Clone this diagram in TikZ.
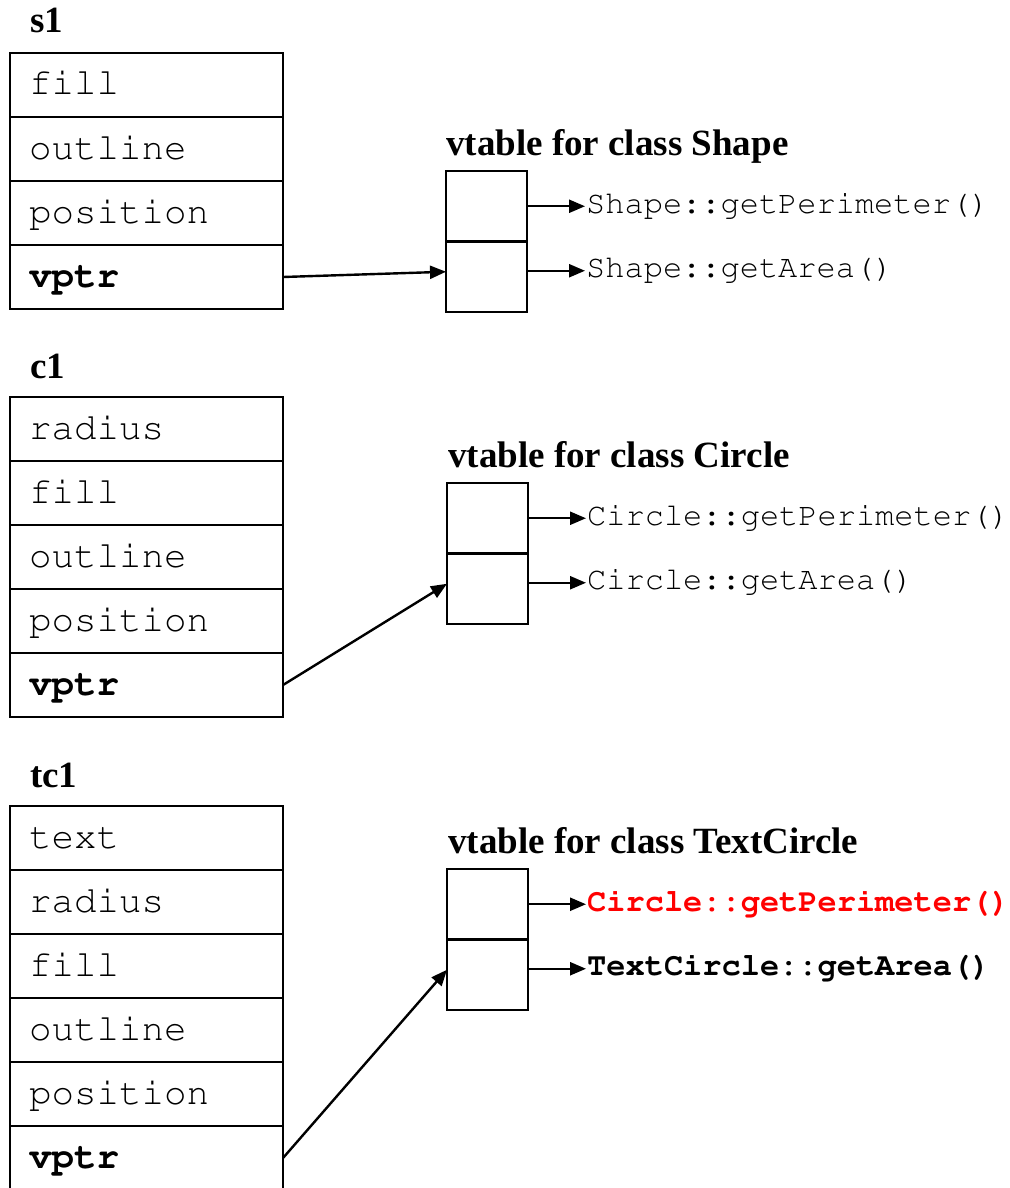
\documentclass[tikz,border=0pt]{standalone}
\usepackage[T1,TU]{fontenc}
\usepackage{fontspec}
\setmainfont{Liberation Serif}
\setmonofont{Liberation Mono}
\usetikzlibrary{arrows.meta, positioning}
\definecolor{overridered}{RGB}{255, 0, 0}
\newcommand{\objfont}{\fontsize{37}{40}\selectfont\bfseries}
\newcommand{\fieldfont}{\fontencoding{T1}\fontfamily{pcr}\fontsize{37.5}{40}\selectfont}
\newcommand{\entryfont}{\fontencoding{T1}\fontfamily{pcr}\fontsize{32}{34}\selectfont}

\begin{document}
\begin{tikzpicture}[
        x=1pt, y=1pt,
        node distance=0pt and 58pt,
        field/.style={rectangle, draw, line width=2.8pt, outer sep=0pt, minimum width=273pt, minimum height=64pt, inner xsep=19pt, text width=235pt, align=left, text height=26pt, text depth=6pt, font=\fieldfont},
        slot/.style={rectangle, draw, line width=2.8pt, outer sep=0pt, minimum width=81pt, minimum height=70.5pt},
        objname/.style={anchor=base west, inner sep=0pt, font=\objfont},
        entry/.style={inner sep=1pt, text height=22pt, text depth=8pt, font=\entryfont},
        arrow/.style={-{Triangle[length=16pt, width=13pt]}, line width=2.4pt}
    ]
        \useasboundingbox (0,0) rectangle (1009,-1188);

        % object s1 and its vtable
        \node[objname] (s1name) at (30,-33) {s1};
        \node[field, anchor=north west] (s1fill) at (10,-53) {fill};
        \node[field, below=of s1fill] (s1outline) {outline};
        \node[field, below=of s1outline] (s1position) {position};
        \node[field, below=of s1position] (s1vptr) {\textbf{vptr}};

        \node[objname] (svtname) at (446,-155) {vtable for class Shape};
        \node[slot, anchor=north west] (sslot1) at (446,-171) {};
        \node[slot, below=of sslot1] (sslot2) {};
        \node[entry, right=of sslot1.east] (sperim) {Shape::getPerimeter()};
        \node[entry, right=of sslot2.east, yshift=6pt] (sarea) {Shape::getArea()};

        \draw[arrow] (sslot1.east) -- (sperim.west);
        \draw[arrow] ([yshift=6pt]sslot2.east) -- (sarea.west);
        \draw[arrow] (s1vptr.east) -- ([yshift=5pt]sslot2.west);

        % object c1 and its vtable
        \node[objname] (c1name) at (30,-378) {c1};
        \node[field, anchor=north west] (c1radius) at (10,-397) {radius};
        \node[field, below=of c1radius] (c1fill) {fill};
        \node[field, below=of c1fill] (c1outline) {outline};
        \node[field, below=of c1outline] (c1position) {position};
        \node[field, below=of c1position] (c1vptr) {\textbf{vptr}};

        \node[objname] (cvtname) at (448,-467) {vtable for class Circle};
        \node[slot, anchor=north west] (cslot1) at (447,-483) {};
        \node[slot, below=of cslot1] (cslot2) {};
        \node[entry, right=of cslot1.east] (cperim) {Circle::getPerimeter()};
        \node[entry, right=of cslot2.east, yshift=6pt] (carea) {Circle::getArea()};

        \draw[arrow] (cslot1.east) -- (cperim.west);
        \draw[arrow] ([yshift=6pt]cslot2.east) -- (carea.west);
        \draw[arrow] (c1vptr.east) -- ([yshift=5pt]cslot2.west);

        % object tc1 and its vtable
        \node[objname] (tc1name) at (30,-787) {tc1};
        \node[field, anchor=north west] (tc1text) at (10,-806) {text};
        \node[field, below=of tc1text] (tc1radius) {radius};
        \node[field, below=of tc1radius] (tc1fill) {fill};
        \node[field, below=of tc1fill] (tc1outline) {outline};
        \node[field, below=of tc1outline] (tc1position) {position};
        \node[field, below=of tc1position] (tc1vptr) {\textbf{vptr}};

        \node[objname] (tcvtname) at (448,-853) {vtable for class TextCircle};
        \node[slot, anchor=north west] (tcslot1) at (447,-869) {};
        \node[slot, below=of tcslot1] (tcslot2) {};
        \node[entry, text=overridered, right=of tcslot1.east] (tcperim) {\textbf{Circle::getPerimeter()}};
        \node[entry, right=of tcslot2.east, yshift=6pt] (tcarea) {\textbf{TextCircle::getArea()}};

        \draw[arrow] (tcslot1.east) -- (tcperim.west);
        \draw[arrow] ([yshift=6pt]tcslot2.east) -- (tcarea.west);
        \draw[arrow] (tc1vptr.east) -- ([yshift=5pt]tcslot2.west);
    \end{tikzpicture}
\end{document}
